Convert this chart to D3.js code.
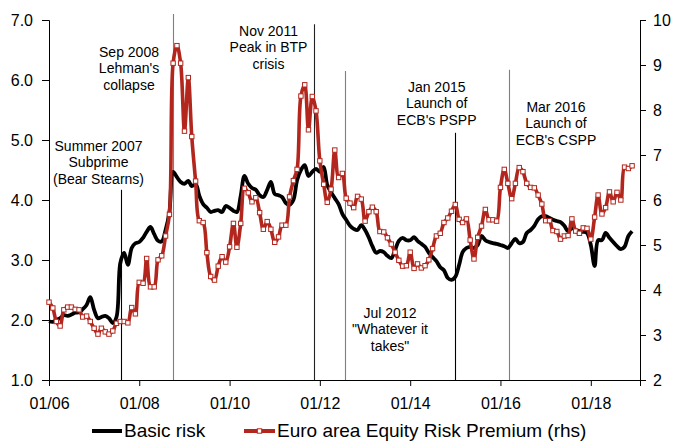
<!DOCTYPE html>
<html>
<head>
<meta charset="utf-8">
<script src="https://cdn.jsdelivr.net/npm/d3@7"></script>
<style>
  html, body { margin: 0; padding: 0; background: #fff; }
  svg { display: block; }
  text { font-family: "Liberation Sans", Arial, sans-serif; fill: #000; }
</style>
</head>
<body>
<svg id="chart" width="674" height="441"></svg>
<script>
// ---------------- DATA ----------------
const startYear = 2006, startMonth = 0;           // Jan 2006, monthly observations
const basicRisk = [
  1.98,1.97,2.00,2.03,2.08,2.07,2.09,2.12,2.13,2.18,
  2.25,2.38,2.17,2.03,2.05,2.07,2.03,1.95,2.05,2.95,
  3.12,2.92,3.20,3.28,3.30,3.37,3.47,3.55,3.43,3.32,
  3.31,3.50,3.80,4.47,4.38,4.30,4.27,4.32,4.23,4.27,
  4.07,3.93,3.87,3.80,3.82,3.83,3.80,3.90,3.87,3.82,
  3.80,4.07,4.40,4.27,4.20,4.17,4.08,4.05,4.17,4.30,
  4.10,4.08,4.05,3.95,3.92,4.00,4.33,4.50,4.58,4.40,
  4.47,4.52,4.47,4.55,4.25,4.13,4.03,3.93,3.77,3.67,
  3.57,3.52,3.50,3.58,3.50,3.37,3.23,3.12,3.15,3.13,
  3.07,3.03,3.17,3.32,3.37,3.33,3.33,3.38,3.32,3.27,
  3.22,3.12,3.05,2.98,2.88,2.83,2.70,2.67,2.72,2.92,
  3.13,3.20,3.22,3.20,3.25,3.40,3.33,3.30,3.28,3.27,
  3.25,3.23,3.20,3.28,3.35,3.28,3.30,3.45,3.50,3.57,
  3.68,3.73,3.73,3.70,3.67,3.65,3.63,3.57,3.48,3.53,
  3.50,3.48,3.47,3.45,3.25,2.90,3.33,3.33,3.45,3.37,
  3.30,3.23,3.18,3.22,3.40,3.48
];
const equityRiskPremium = [
  3.73,3.60,3.30,3.20,3.56,3.62,3.62,3.57,3.56,3.40,
  3.42,3.30,3.15,3.02,3.15,3.07,3.02,3.09,3.26,3.30,
  3.30,3.27,3.61,3.47,4.17,4.15,4.70,4.07,4.07,4.67,
  4.76,5.20,5.68,9.04,9.43,9.04,7.53,8.72,7.41,6.42,
  5.54,5.50,4.83,4.30,4.22,4.53,4.74,4.62,4.96,5.48,
  4.95,5.48,6.26,6.16,5.96,6.05,5.72,5.35,5.52,5.35,
  5.06,5.18,5.44,5.44,6.07,6.43,6.68,8.31,8.56,7.56,
  8.30,7.98,6.87,6.35,5.95,6.24,7.11,6.50,6.59,6.04,
  5.93,5.83,6.08,6.02,5.53,5.74,5.84,5.74,5.30,5.29,
  5.16,5.02,4.84,4.66,4.53,4.54,4.84,4.48,4.58,4.49,
  4.54,4.67,4.92,5.20,5.26,5.50,5.60,5.75,5.90,5.57,
  5.50,5.58,5.11,4.69,5.17,5.42,5.79,5.56,5.56,5.53,
  6.28,6.68,6.37,6.03,6.37,6.72,6.63,6.37,6.28,6.27,
  6.11,5.91,5.54,5.54,5.32,5.30,5.13,5.20,5.21,5.58,
  5.31,5.26,5.38,5.37,5.13,5.62,6.11,5.69,5.83,6.18,
  5.96,6.17,6.00,6.73,6.70,6.76
];
const seriesNames = ["Basic risk", "Euro area Equity Risk Premium (rhs)"];
const leftTicks = [1, 2, 3, 4, 5, 6, 7];
const rightTicks = [2, 3, 4, 5, 6, 7, 8, 9, 10];
const xTickYears = [2006, 2008, 2010, 2012, 2014, 2016, 2018];

// event markers: date, label lines
const eventDates = [
  new Date(2007, 7, 5), new Date(2008, 8, 30), new Date(2011, 10, 14),
  new Date(2012, 6, 19), new Date(2015, 0, 1), new Date(2016, 2, 7)
];
const eventLabels = [
  ["Summer 2007", "Subprime", "(Bear Stearns)"],
  ["Sep 2008", "Lehman's", "collapse"],
  ["Nov 2011", "Peak in BTP", "crisis"],
  ["Jul 2012", "\"Whatever it", "takes\""],
  ["Jan 2015", "Launch of", "ECB's PSPP"],
  ["Mar 2016", "Launch of", "ECB's CSPP"]
];

// ---------------- LAYOUT ----------------
const plot = { left: 49, right: 640, top: 20, bottom: 380 };
const RED = "#b2261d";
// event line styling/placement (top in left-axis units, label anchor in px)
const eventStyle = [
  { color: "#000", top: 4.17, lx: 98.5, ly: 151 },
  { color: "#7f7f7f", top: 7.1, lx: 129, ly: 57 },
  { color: "#222", top: 6.93, lx: 268.5, ly: 36 },
  { color: "#7f7f7f", top: 6.15, lx: 390, ly: 318 },
  { color: "#000", top: 5.12, lx: 436.7, ly: 92 },
  { color: "#7f7f7f", top: 6.17, lx: 556, ly: 112 }
];

const svg = d3.select("#chart");
svg.append("rect").attr("width", 674).attr("height", 441).attr("fill", "#fff");

const dates = basicRisk.map((_, i) => new Date(startYear, startMonth + i, 1));

const x = d3.scaleTime()
  .domain([new Date(2006, 0, 1), new Date(2019, 1, 3)])
  .range([plot.left, plot.right]);
const yL = d3.scaleLinear().domain([1, 7]).range([plot.bottom, plot.top]);
const yR = d3.scaleLinear().domain([2, 10]).range([plot.bottom, plot.top]);

// event lines
const evG = svg.append("g");
eventDates.forEach((d, i) => {
  const s = eventStyle[i];
  evG.append("line")
    .attr("x1", Math.round(x(d)) + 0.5).attr("x2", Math.round(x(d)) + 0.5)
    .attr("y1", yL(s.top)).attr("y2", plot.bottom)
    .attr("stroke", s.color).attr("stroke-width", 1.1);
  const t = evG.append("text")
    .attr("text-anchor", "middle")
    .attr("font-size", 14);
  eventLabels[i].forEach((ln, j) => {
    t.append("tspan").attr("x", s.lx).attr("y", s.ly + j * 16.3).text(ln);
  });
});

// axes
const fontAxis = "16px";
const gL = svg.append("g").attr("transform", `translate(${plot.left},0)`)
  .call(d3.axisLeft(yL).tickValues(leftTicks).tickFormat(d3.format(".1f")).tickSizeOuter(0).tickSize(7).tickPadding(9));
const gR = svg.append("g").attr("transform", `translate(${plot.right},0)`)
  .call(d3.axisRight(yR).tickValues(rightTicks).tickFormat(d3.format("d")).tickSizeOuter(0).tickSize(6).tickPadding(7));
const gX = svg.append("g").attr("transform", `translate(0,${plot.bottom})`)
  .call(d3.axisBottom(x).tickValues(xTickYears.map(y => new Date(y, 0, 1)))
    .tickFormat(d3.timeFormat("%m/%y")).tickSizeOuter(0).tickSize(6).tickPadding(12));
[gL, gR, gX].forEach(g => {
  g.selectAll("text").attr("font-size", fontAxis).attr("font-family", "Liberation Sans, Arial, sans-serif").attr("fill", "#000");
  g.selectAll("line,path").attr("stroke", "#000").attr("stroke-width", 1);
});

// series lines
const lineL = d3.line().x((d, i) => x(dates[i])).y(d => yL(d)).curve(d3.curveCatmullRom.alpha(0.5));
const lineR = d3.line().x((d, i) => x(dates[i])).y(d => yR(d)).curve(d3.curveCatmullRom.alpha(0.5));

svg.append("path").datum(basicRisk)
  .attr("d", lineL).attr("fill", "none").attr("stroke", "#000")
  .attr("stroke-width", 3.8).attr("stroke-linejoin", "round");

svg.append("path").datum(equityRiskPremium)
  .attr("d", lineR).attr("fill", "none").attr("stroke", RED)
  .attr("stroke-width", 3.6).attr("stroke-linejoin", "round");

svg.append("g").selectAll("rect").data(equityRiskPremium).join("rect")
  .attr("x", (d, i) => x(dates[i]) - 2.2)
  .attr("y", d => yR(d) - 2.2)
  .attr("width", 4.4).attr("height", 4.4)
  .attr("fill", "#fff").attr("stroke", RED).attr("stroke-width", 1);

// legend
const lg = svg.append("g");
lg.append("line").attr("x1", 92).attr("x2", 122).attr("y1", 431).attr("y2", 431)
  .attr("stroke", "#000").attr("stroke-width", 4);
lg.append("text").attr("x", 124).attr("y", 436.5).attr("font-size", 19).text(seriesNames[0]);
lg.append("line").attr("x1", 244).attr("x2", 275).attr("y1", 431).attr("y2", 431)
  .attr("stroke", RED).attr("stroke-width", 4);
lg.append("rect").attr("x", 259.5 - 2.2).attr("y", 431 - 2.2).attr("width", 4.4).attr("height", 4.4)
  .attr("fill", "#fff").attr("stroke", RED).attr("stroke-width", 1);
lg.append("text").attr("x", 277).attr("y", 436.5).attr("font-size", 19).text(seriesNames[1]);
</script>
</body>
</html>
